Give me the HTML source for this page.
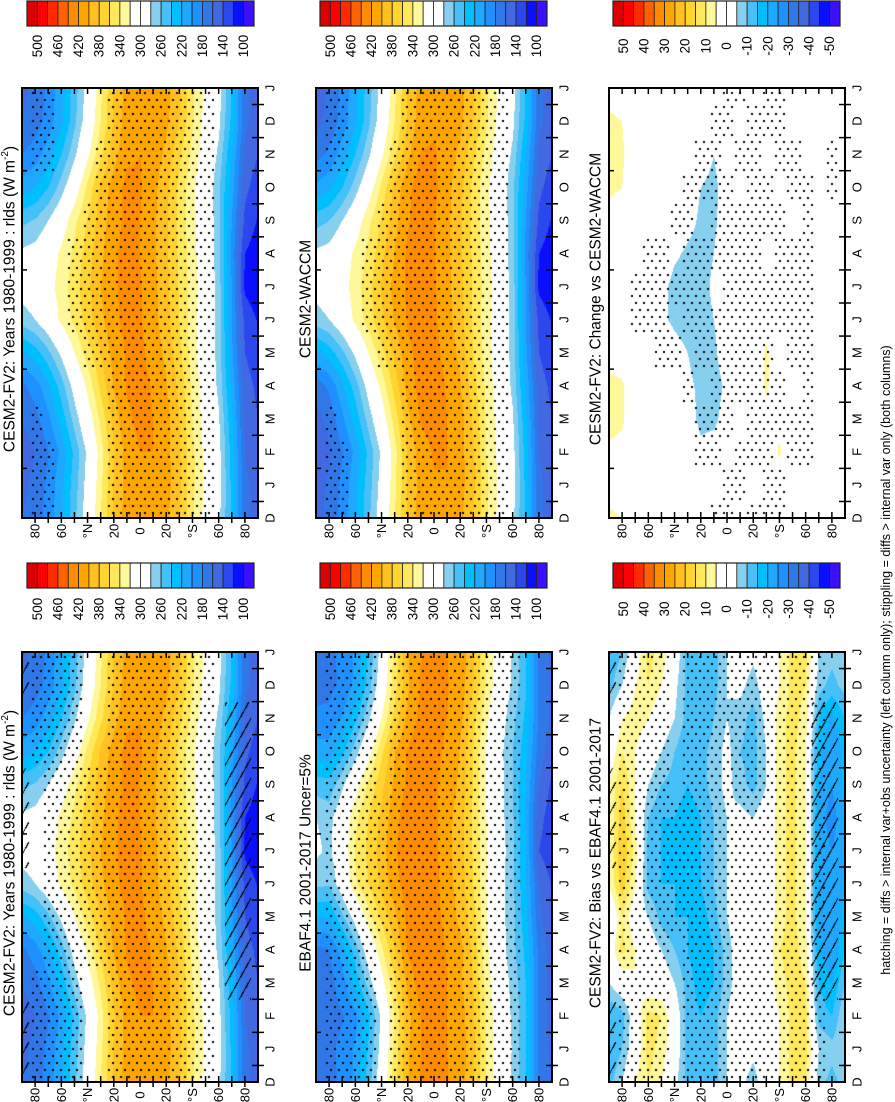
<!DOCTYPE html>
<html><head><meta charset="utf-8">
<style>
html,body{margin:0;padding:0;background:#fff;}
#wrap{position:relative;width:895px;height:1102px;overflow:hidden;background:#fff;font-family:"Liberation Sans",sans-serif;}
canvas{position:absolute;}
svg{position:absolute;left:0;top:0;}
</style></head>
<body>
<div id="wrap">
<svg id="ov" width="895" height="1102"></svg>
</div>
<script>
// ---------- data (rows Jan..Dec, cols 90N..90S every 10 deg) ----------
const monthNames = ["J","F","M","A","M","J","J","A","S","O","N","D"];
const latitudes = [90,80,70,60,50,40,30,20,10,0,-10,-20,-30,-40,-50,-60,-70,-80,-90];
const fv2 = [
[155,165,185,215,250,290,335,382,408,418,420,408,385,345,315,290,235,165,150],
[150,160,178,205,245,285,330,378,408,420,420,408,383,345,313,288,232,160,145],
[160,172,195,228,268,305,345,388,416,426,420,408,380,340,310,283,225,155,140],
[175,190,215,250,290,325,365,402,422,428,418,402,375,335,305,275,215,150,135],
[215,230,255,285,320,350,380,408,422,425,412,395,366,330,302,272,205,140,125],
[270,280,300,325,345,370,395,415,427,422,408,388,360,328,302,270,200,135,118],
[290,295,310,330,350,375,400,417,427,422,406,386,358,330,305,270,200,115,105],
[285,290,305,325,345,370,395,417,427,420,405,384,356,328,302,268,195,120,108],
[255,262,280,305,335,362,390,412,425,420,405,384,354,326,302,266,200,135,118],
[210,220,240,270,305,345,384,410,426,422,407,386,354,325,300,265,210,145,130],
[180,190,210,240,275,315,355,392,416,420,412,395,365,333,305,275,220,155,140],
[160,170,188,215,255,295,340,382,410,418,418,405,380,343,312,286,235,165,150]];
const change = [
[3,2,0,0,0,0,0,0,0,0,0,0,0,0,0,0,0,0,0],
[4,3,0,0,0,0,-2,-4,-3,-2,0,0,0,6,0,0,0,0,0],
[7,6,0,0,0,0,-3,-6,-6,-3,0,0,3,3,0,0,0,0,0],
[7,6,0,0,0,-2,-4,-6,-7,-4,0,0,6,0,0,0,0,0,0],
[2,1,0,0,0,-3,-5,-7,-6,-2,0,0,6,0,0,0,0,0,0],
[0,0,0,0,-4,-6,-7,-7,-5,-2,0,0,3,0,0,0,0,0,0],
[0,0,0,0,-3,-7,-7,-7,-4,-1,0,0,0,0,0,0,0,0,0],
[0,0,0,0,0,-4,-6,-7,-5,-1,0,0,0,0,0,0,0,0,0],
[3,2,0,0,0,0,-3,-6,-6,-2,0,0,0,0,0,0,0,0,0],
[6,5,0,0,0,0,-2,-5,-6,-3,0,0,0,0,0,0,0,0,0],
[7,6,0,0,0,0,0,-3,-5,-2,0,0,0,0,0,0,0,0,0],
[6,5,0,0,0,0,0,0,-2,0,0,0,0,0,0,0,0,0,0]];
const bias = [
[-15,-10,0,12,8,0,-12,-15,-12,-5,0,-3,0,5,12,12,-5,-8,-5],
[-15,-12,0,12,10,0,-12,-15,-12,-5,0,-3,0,5,12,12,-12,-15,-5],
[-5,0,5,0,0,-5,-12,-18,-15,-8,0,5,0,8,12,10,-15,-20,-10],
[0,12,5,0,-5,-10,-15,-20,-15,-8,0,-5,0,10,12,8,-20,-25,-15],
[-5,10,0,-5,-12,-15,-15,-18,-12,-5,0,0,0,8,12,5,-22,-25,-18],
[5,18,5,-12,-15,-15,-18,-15,-10,-5,0,-3,0,8,12,5,-22,-25,-20],
[5,20,8,-12,-15,-15,-18,-15,-10,-5,0,-3,0,8,12,5,-22,-25,-20],
[5,18,5,-10,-15,-15,-18,-15,-10,-5,-3,-5,0,8,12,5,-22,-28,-20],
[5,15,5,-5,-10,-12,-15,-12,-8,-3,-8,-12,-5,8,12,5,-20,-25,-18],
[0,10,5,0,-5,-10,-15,-12,-8,-3,-10,-12,-5,8,12,5,-18,-25,-18],
[-5,5,8,5,0,-5,-12,-15,-10,-5,-8,-12,-3,8,12,8,-15,-22,-15],
[-12,-5,5,10,5,-3,-12,-15,-12,-5,-3,-8,0,5,12,10,-8,-12,-8]];
const stipModel = ["0110000111111110000","0110000111111110000","0100000111111110000","0000000111111110000","0000011111111110000","0000111111111110000","0000111111111110000","0000111111111110000","0000011111111110000","0000001111111110000","0110001111111110000","0110000111111110000"];
const stipModelB = ["0111100111111110000","0111100111111110000","0111100111111110000","0011111111111110000","0011111111111110000","0011111111111110000","0011111111111110000","0011111111111110000","0011111111111110000","0111100111111110000","0111100111111110000","0111100111111110000"];
const stipObs = ["0111101111111111000","0111101111111111000","0111101111111111000","0111101111111111000","0111111111111111000","0111111111111111000","0111111111111111000","0111111111111111000","0111101111111111000","0111101111111111000","0111101111111111000","0111101111111111000"];
const stipChange = ["0000000001101100000","0000000110111011000","0000000111011111000","0000001011111101000","0000110111111011000","0011101111111111000","0011111101111111000","0001101111110111000","0000011011111101000","0000001111011011010","0000000110110110010","0000000011011100000"];
const stipBias = ["0111101111111111100","0111101111111111100","0111101111111111100","0111101111111111100","0111111111111111100","0111111111111111100","0111111111111111100","0111111111111111100","0111101111111111100","0111101111111111100","0111101111111111100","0111101111111111100"];
const hatchMask = ["1000000000000000000","1000000000000000000","0000000000000000110","0000000000000000110","0000000000000000110","0000000000000000110","1000000000000000110","1000000000000000110","1000000000000000110","0000000000000000110","0000000000000000110","1000000000000000000"];
const absTicks = [500,460,420,380,340,300,260,220,180,140,100];
const diffTicks = [50,40,30,20,10,0,-10,-20,-30,-40,-50];
const latTickLabels = ["80","60","°N","20","0","20","°S","60","80"];
const latTickValues = [80,60,40,20,0,-20,-40,-60,-80];
const monthTickLabels = ["D","J","F","M","A","M","J","J","A","S","O","N","D","J"];

// ---------- rendering ----------
const palette = ["#dd0000","#ff0000","#ff2a00","#ff6000","#ff8c00","#ffa500","#ffc020","#ffd42f","#ffe85a","#fff89a","#ffffff","#ffffff","#87cfee","#45c0f8","#00bfff","#1ea8ff","#1e90ff","#3078e8","#4169e1","#2b48ee","#0a10ff","#3c10ff"];
const rgb = palette.map(h=>[parseInt(h.substr(1,2),16),parseInt(h.substr(3,2),16),parseInt(h.substr(5,2),16)]);
const waccm = fv2.map((r,m)=>r.map((v,i)=>v-change[m][i]));
const ebaf = fv2.map((r,m)=>r.map((v,i)=>v-bias[m][i]));
const NS="http://www.w3.org/2000/svg";
const ov=document.getElementById('ov');
const wrap=document.getElementById('wrap');

function el(tag,attrs,parent){const e=document.createElementNS(NS,tag);for(const k in attrs)e.setAttribute(k,attrs[k]);(parent||ov).appendChild(e);return e;}
function boxIndex(v,top,step){ if(v>=top) return 0; let k=Math.floor((top-v)/step)+1; return Math.min(21,k);}
function sample(data,m,lat){
  const fi=(90-lat)/10; let i0=Math.floor(fi); if(i0>=18)i0=17; if(i0<0)i0=0; const fa=fi-i0;
  const m0=Math.floor(m); const fm=m-m0; const a=((m0%12)+12)%12, b=((m0+1)%12+12)%12;
  const va=data[a][i0]*(1-fa)+data[a][i0+1]*fa; const vb=data[b][i0]*(1-fa)+data[b][i0+1]*fa;
  return va*(1-fm)+vb*fm;
}
function maskAt(mask,m,lat){ if(!mask) return false; const mi=((Math.round(m)%12)+12)%12; const li=Math.max(0,Math.min(18,Math.round((90-lat)/10))); return mask[mi][li]==='1';}

const panels=[
 {name:'panel-cesm2-fv2-top',x:22,y:88,data:fv2,top:500,step:20,stip:stipModel,hatch:null,title:'fv2',tx:10},
 {name:'panel-cesm2-waccm',x:316,y:88,data:waccm,top:500,step:20,stip:stipModel,hatch:null,title:'CESM2-WACCM',tx:306},
 {name:'panel-change-vs-waccm',x:609,y:88,data:change,top:50,step:5,stip:stipChange,hatch:null,title:'CESM2-FV2: Change vs CESM2-WACCM',tx:596},
 {name:'panel-cesm2-fv2-bottom',x:22,y:652,data:fv2,top:500,step:20,stip:stipModelB,hatch:hatchMask,title:'fv2',tx:10},
 {name:'panel-ebaf',x:316,y:652,data:ebaf,top:500,step:20,stip:stipObs,hatch:null,title:'EBAF4.1 2001-2017 Uncer=5%',tx:306},
 {name:'panel-bias-vs-ebaf',x:609,y:652,data:bias,top:50,step:5,stip:stipBias,hatch:hatchMask,title:'CESM2-FV2: Bias vs EBAF4.1 2001-2017',tx:596}
];
const PW=236, PH=430;

panels.forEach(p=>{
  const c=document.createElement('canvas'); c.width=PW; c.height=PH;
  c.style.left=p.x+'px'; c.style.top=p.y+'px';
  
  
  wrap.insertBefore(c,ov);
  const ctx=c.getContext('2d'); const img=ctx.createImageData(PW,PH); const d=img.data;
  for(let py=0;py<PH;py++){
    const m=(PH-py)/PH*13-1;
    for(let px=0;px<PW;px++){
      const lat=90-(px+0.5)/PW*180;
      const v=sample(p.data,m,lat);
      let col=rgb[boxIndex(v,p.top,p.step)];
      if(p.hatch && maskAt(p.hatch,m,lat)){ const q=((px+py*0.55)%11+11)%11; if(q<1.3) col=[0,0,0]; }
      const o=(py*PW+px)*4; d[o]=col[0];d[o+1]=col[1];d[o+2]=col[2];d[o+3]=255;
    }
  }
  ctx.putImageData(img,0,0);
  ctx.fillStyle='#000';
  for(let r=0,py=4;py<PH;py+=7,r++){
    for(let px=(r%2?6:2);px<PW;px+=8){
      const m=(PH-py)/PH*13-1; const lat=90-px/PW*180;
      if(maskAt(p.stip,m,lat)) ctx.fillRect(px,py,2,2);
    }
  }
  const g=el('g',{});
  
  
  el('rect',{x:p.x,y:p.y,width:PW,height:PH,fill:'none',stroke:'#000','stroke-width':2},g);
  for(let lat=80;lat>=-80;lat-=10){
    const x=p.x+(90-lat)/180*PW;
    el('line',{x1:x,y1:p.y+PH+5,x2:x,y2:p.y+PH-6,stroke:'#000','stroke-width':1.5},g);
    el('line',{x1:x,y1:p.y,x2:x,y2:p.y+6,stroke:'#000','stroke-width':1.5},g);
  }
  latTickValues.forEach((lv,i)=>{
    const x=p.x+(90-lv)/180*PW, y=p.y+PH+13;
    const t=el('text',{x:x,y:y,transform:`rotate(-90 ${x} ${y})`,'text-anchor':'middle','dominant-baseline':'central','font-size':13},g);
    t.textContent=latTickLabels[i];
    
    
  });
  for(let k=0;k<13;k++){
    const y=p.y+PH-(k+0.5)*PH/13;
    el('line',{x1:p.x+PW-6,y1:y,x2:p.x+PW+6,y2:y,stroke:'#000','stroke-width':1.5},g);
    if(k%3==1) el('line',{x1:p.x,y1:y,x2:p.x+5,y2:y,stroke:'#000','stroke-width':1.5},g);
  }
  monthTickLabels.forEach((lab,k)=>{
    const x=p.x+PW+12, y=p.y+PH-k*PH/13;
    const t=el('text',{x:x,y:y,transform:`rotate(-90 ${x} ${y})`,'text-anchor':'middle','dominant-baseline':'central','font-size':13},g);
    t.textContent=lab;
    
    
  });
  const ty=p.y+PH/2-4;
  const t=el('text',{x:p.tx,y:ty,transform:`rotate(-90 ${p.tx} ${ty})`,'text-anchor':'middle','dominant-baseline':'central','font-size':15.5},g);
  
  
  if(p.title==='fv2'){
    t.appendChild(document.createTextNode('CESM2-FV2: Years 1980-1999 : rlds (W m'));
    const s=el('tspan',{'font-size':10,dy:-5},t); s.textContent='-2';
    const s2=el('tspan',{dy:5},t); s2.textContent=')';
  } else t.textContent=p.title;
});

const cbars=[
 {x:27,y:1,ticks:absTicks,ly:46},{x:320,y:1,ticks:absTicks,ly:46},{x:613,y:1,ticks:diffTicks,ly:46},
 {x:27,y:563,ticks:absTicks,ly:609},{x:320,y:563,ticks:absTicks,ly:609},{x:613,y:563,ticks:diffTicks,ly:609}];
cbars.forEach(cb=>{
  const g=el('g',{});
  
  
  const bw=227/22;
  palette.forEach((col,i)=>{
    const r=el('rect',{x:cb.x+i*bw,y:cb.y,width:bw,height:25,fill:col,stroke:'#222','stroke-width':0.8},g);
    
    
  });
  el('rect',{x:cb.x,y:cb.y,width:227,height:25,fill:'none',stroke:'#222','stroke-width':1.2},g);
  cb.ticks.forEach((v,i)=>{
    const x=cb.x+(2*i+1)*bw, y=cb.ly;
    const t=el('text',{x:x,y:y,transform:`rotate(-90 ${x} ${y})`,'text-anchor':'middle','dominant-baseline':'central','font-size':13.5},g);
    t.textContent=String(v);
    
    
  });
});
const fx=886, fy=660;
const fn=el('text',{x:fx,y:fy,transform:`rotate(-90 ${fx} ${fy})`,'text-anchor':'middle','dominant-baseline':'central','font-size':12.5});
fn.textContent='hatching = diffs > internal var+obs uncertainty (left column only); stippling = diffs > internal var only (both columns)';


</script>
</body></html>
